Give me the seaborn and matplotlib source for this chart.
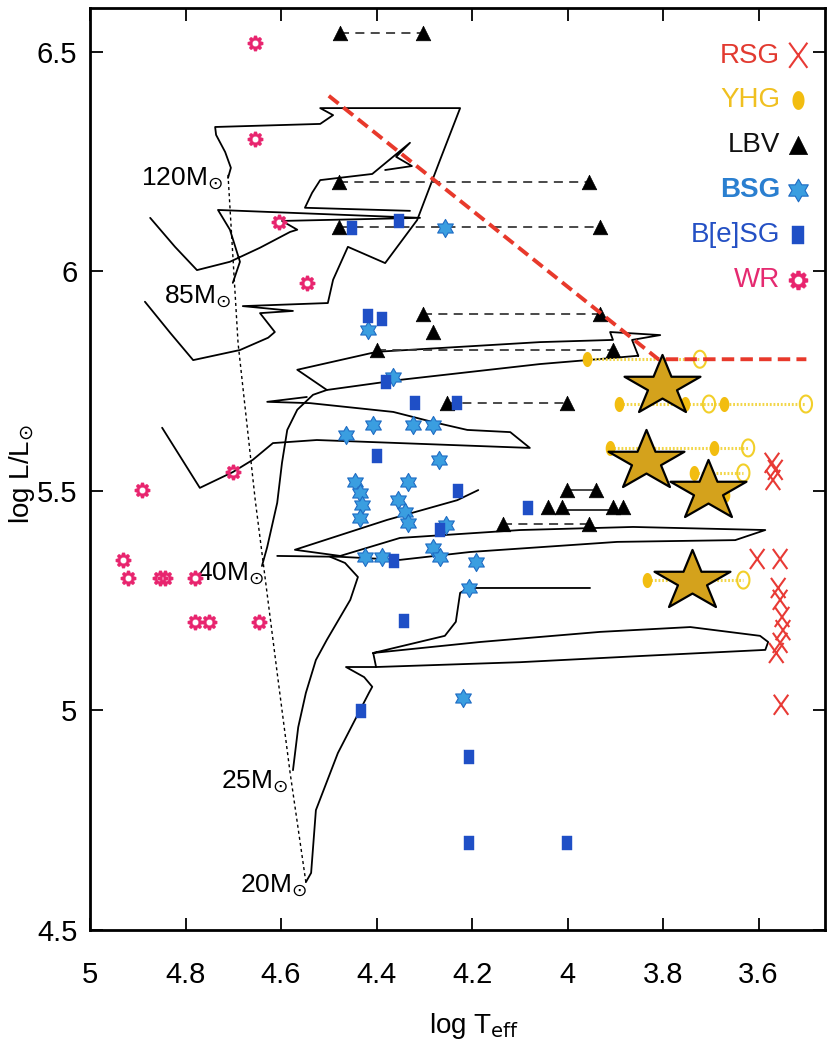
import numpy as np
import pandas as pd
import matplotlib
matplotlib.use("Agg")
import matplotlib.pyplot as plt
from matplotlib.path import Path
import seaborn as sns

# ---------------- observed stars: (log Teff, log L/Lsun) ----------------
rsg_logt = [3.572, 3.565, 3.570, 3.603, 3.555, 3.559, 3.555, 3.551, 3.549, 3.555, 3.563, 3.553]
rsg_logl = [5.564, 5.548, 5.525, 5.345, 5.345, 5.279, 5.252, 5.213, 5.183, 5.154, 5.131, 5.013]

yhg_logt = [3.959, 3.892, 3.754, 3.672, 3.911, 3.693, 3.735, 3.670, 3.834]
yhg_logl = [5.800, 5.698, 5.698, 5.698, 5.598, 5.598, 5.541, 5.491, 5.297]
yhg_open_logt = [3.723, 3.704, 3.501, 3.622, 3.632, 3.632]
yhg_open_logl = [5.800, 5.698, 5.698, 5.598, 5.541, 5.297]
yhg_path_hot = [3.959, 3.892, 3.911, 3.735, 3.834]
yhg_path_cool = [3.723, 3.501, 3.622, 3.632, 3.632]
yhg_path_logl = [5.800, 5.698, 5.598, 5.541, 5.297]

lbv_logt = [4.476, 4.302, 4.478, 3.955, 4.478, 3.932, 4.303, 3.932, 4.282, 4.399, 3.905,
            4.252, 4.001, 4.001, 3.940, 4.041, 4.012, 3.905, 3.884, 3.955, 4.135]
lbv_logl = [6.543, 6.543, 6.204, 6.204, 6.101, 6.101, 5.903, 5.903, 5.862, 5.821, 5.821,
            5.700, 5.700, 5.502, 5.502, 5.464, 5.464, 5.464, 5.464, 5.424, 5.424]
lbv_link_hot = [4.476, 4.478, 4.478, 4.303, 4.399, 4.252, 4.135]
lbv_link_cool = [4.302, 3.955, 3.932, 3.932, 3.905, 4.001, 3.955]
lbv_link_logl = [6.543, 6.204, 6.101, 5.903, 5.821, 5.700, 5.424]
lbv_short_link = (4.001, 3.940, 5.502)
lbv_solid_link = (4.012, 3.905, 5.457)

bsg_logt = [4.257, 4.418, 4.365, 4.464, 4.407, 4.324, 4.282, 4.269, 4.445, 4.435, 4.430, 4.435,
            4.334, 4.355, 4.340, 4.334, 4.254, 4.282, 4.267, 4.424, 4.388, 4.192, 4.206, 4.219]
bsg_logl = [6.099, 5.867, 5.760, 5.628, 5.650, 5.650, 5.650, 5.571, 5.521, 5.495, 5.468, 5.439,
            5.521, 5.479, 5.452, 5.427, 5.423, 5.370, 5.350, 5.350, 5.350, 5.338, 5.279, 5.028]

bsge_logt = [4.451, 4.353, 4.418, 4.388, 4.380, 4.319, 4.231, 4.399, 4.229, 4.083, 4.267,
             4.363, 4.342, 4.432, 4.206, 4.206, 4.001]
bsge_logl = [6.099, 6.115, 5.899, 5.892, 5.748, 5.700, 5.700, 5.580, 5.500, 5.461, 5.411,
             5.341, 5.204, 4.999, 4.894, 4.698, 4.698]

wr_logt = [4.654, 4.654, 4.604, 4.546, 4.701, 4.891, 4.931, 4.920, 4.853, 4.843, 4.780,
           4.780, 4.751, 4.646]
wr_logl = [6.520, 6.302, 6.113, 5.974, 5.543, 5.502, 5.343, 5.302, 5.302, 5.302, 5.302,
           5.202, 5.202, 5.202]

# highlighted targets
target_logt = [3.802, 3.836, 3.707, 3.739]
target_logl = [5.738, 5.568, 5.500, 5.295]

# Humphreys-Davidson limit
hd_logt = [4.50, 3.81, 3.50]
hd_logl = [6.40, 5.80, 5.80]

# ---------------- evolutionary tracks ----------------
track_120_t = [4.711, 4.705, 4.717, 4.736, 4.738, 4.518, 4.491, 4.518, 4.225, 4.267, 4.315, 4.382,
               4.460, 4.491, 4.502, 4.680, 4.575, 4.644, 4.613, 4.627, 4.686, 4.784, 4.832, 4.885]
track_120_l = [6.213, 6.236, 6.272, 6.311, 6.329, 6.336, 6.356, 6.372, 6.372, 6.254, 6.117, 6.019,
               6.056, 5.981, 5.928, 5.921, 5.910, 5.905, 5.862, 5.849, 5.821, 5.798, 5.860, 5.931]
track_120b_t = [4.330, 4.550, 4.535, 4.518, 4.409, 4.330, 4.359, 4.326, 4.382]
track_120b_l = [6.138, 6.145, 6.179, 6.208, 6.222, 6.293, 6.261, 6.240, 6.231]
track_85_t = [4.701, 4.686, 4.707, 4.732, 4.309, 4.598, 4.566, 4.581, 4.644, 4.707, 4.776, 4.822, 4.874]
track_85_l = [5.974, 6.022, 6.095, 6.140, 6.122, 6.115, 6.095, 6.090, 6.054, 6.022, 6.003, 6.056, 6.122]
track_60_t = [3.852, 3.959, 4.058, 4.351, 4.504, 4.566, 4.399, 4.058, 3.905, 3.911, 3.806, 3.865, 3.852]
track_60_l = [5.808, 5.798, 5.789, 5.753, 5.730, 5.776, 5.817, 5.839, 5.844, 5.862, 5.855, 5.844, 5.808]
track_60b_t = [4.546, 4.629, 4.539, 4.365, 4.282, 4.210, 4.120, 4.079, 4.525, 4.617, 4.659, 4.701,
               4.770, 4.849]
track_60b_l = [5.714, 5.703, 5.700, 5.680, 5.657, 5.639, 5.634, 5.598, 5.616, 5.609, 5.571, 5.543,
               5.507, 5.644]
track_40_t = [4.640, 4.629, 4.608, 4.598, 4.587, 4.566, 4.533, 4.504]
track_40_l = [5.329, 5.372, 5.473, 5.564, 5.639, 5.685, 5.719, 5.730]
track_32_t = [4.187, 4.231, 4.378, 4.571, 4.476, 4.351, 4.099, 3.863, 3.586, 3.649, 3.896, 4.204,
              4.351, 4.476, 4.608]
track_32_l = [5.502, 5.479, 5.434, 5.366, 5.352, 5.393, 5.411, 5.418, 5.411, 5.388, 5.384, 5.361,
              5.343, 5.350, 5.352]
track_25_t = [4.575, 4.564, 4.548, 4.527, 4.504, 4.455, 4.439, 4.466, 4.497]
track_25_l = [4.864, 4.962, 5.040, 5.115, 5.161, 5.252, 5.304, 5.336, 5.350]
track_25b_t = [3.953, 4.206, 4.225, 4.234, 4.257, 4.407, 4.401, 4.099, 3.848, 3.586, 3.580, 3.597,
               3.743, 3.932, 4.183, 4.407]
track_25b_l = [5.279, 5.279, 5.268, 5.202, 5.170, 5.131, 5.099, 5.110, 5.124, 5.138, 5.156, 5.170,
               5.190, 5.179, 5.156, 5.131]
track_20_t = [4.548, 4.537, 4.527, 4.481, 4.416, 4.409, 4.426, 4.464, 4.401]
track_20_l = [4.609, 4.630, 4.773, 4.903, 5.040, 5.054, 5.076, 5.099, 5.099]

zams_t = [4.711, 4.690, 4.654, 4.608, 4.581, 4.548]
zams_l = [6.220, 5.837, 5.479, 5.085, 4.858, 4.609]

mass_labels = ["120M$_{\\odot}$", "85M$_{\\odot}$", "40M$_{\\odot}$", "25M$_{\\odot}$", "20M$_{\\odot}$"]
mass_label_t = [4.722, 4.705, 4.636, 4.585, 4.546]
mass_label_l = [6.212, 5.942, 5.312, 4.838, 4.602]

x_ticks = [5.0, 4.8, 4.6, 4.4, 4.2, 4.0, 3.8, 3.6]
x_tick_labels = ["5", "4.8", "4.6", "4.4", "4.2", "4", "3.8", "3.6"]
y_ticks = [4.5, 5.0, 5.5, 6.0, 6.5]
y_tick_labels = ["4.5", "5", "5.5", "6", "6.5"]

legend_order = ["RSG", "YHG", "LBV", "BSG", "B[e]SG", "WR"]
legend_colors = ["#e23a30", "#f0c020", "#111111", "#2a7fd0", "#2450c4", "#e52a70"]

# ---------------- marker shapes ----------------
def ellipse_path(aspect):
    th = np.linspace(0, 2 * np.pi, 41)
    return Path(np.column_stack([aspect * np.cos(th), np.sin(th)]), closed=True)


def gear_path(teeth=8, root=0.74, hole=0.42):
    verts = []
    for k in range(teeth):
        a = 2 * np.pi * k / teeth
        for da, r in [(-19, root), (-10, 1.0), (10, 1.0), (19, root)]:
            ang = a + np.deg2rad(da)
            verts.append((r * np.cos(ang), r * np.sin(ang)))
    verts.append(verts[0])
    outer = Path(verts, closed=True)
    th = np.linspace(2 * np.pi, 0, 31)
    inner = Path(np.column_stack([hole * np.cos(th), hole * np.sin(th)]), closed=True)
    return Path.make_compound_path(outer, inner)


def flat_star_path(squash=0.79):
    ang = np.pi / 2 + np.arange(11) * np.pi / 5
    r = np.where(np.arange(11) % 2 == 0, 1.0, 0.382)
    return Path(np.column_stack([r * np.cos(ang), squash * r * np.sin(ang)]), closed=True)


tall_x = Path([(-0.72, -1), (0.72, 1), (-0.72, 1), (0.72, -1)],
              [Path.MOVETO, Path.LINETO, Path.MOVETO, Path.LINETO])
rect_mark = Path([(-0.33, -0.5), (0.33, -0.5), (0.33, 0.5), (-0.33, 0.5), (-0.33, -0.5)], closed=True)
hexagram = Path.unit_regular_star(6, innerCircle=0.577)

# ---------------- figure ----------------
sns.set_theme(style="ticks")
plt.rcParams["font.family"] = ["Liberation Sans Narrow", "Liberation Sans", "DejaVu Sans"]
plt.rcParams["axes.edgecolor"] = "black"
plt.rcParams["text.color"] = "black"
plt.rcParams["xtick.color"] = "black"
plt.rcParams["ytick.color"] = "black"
plt.rcParams["axes.labelcolor"] = "black"

fig = plt.figure(figsize=(8.27, 10.51), dpi=100)
ax = fig.add_axes([90 / 827, 121 / 1051, 735 / 827, 922 / 1051])

# tracks
tracks = [(track_120_t, track_120_l), (track_120b_t, track_120b_l), (track_85_t, track_85_l),
          (track_60_t, track_60_l), (track_60b_t, track_60b_l), (track_40_t, track_40_l),
          (track_32_t, track_32_l), (track_25_t, track_25_l), (track_25b_t, track_25b_l),
          (track_20_t, track_20_l)]
for tt, ll in tracks:
    ax.plot(tt, ll, color="black", lw=1.3, zorder=2, solid_joinstyle="round")
ax.plot(zams_t, zams_l, color="black", lw=1.0, ls=(0, (2.2, 2.2)), zorder=2)

for lab, t, l in zip(mass_labels, mass_label_t, mass_label_l):
    ax.text(t, l, lab, ha="right", va="center", fontsize=19, zorder=3)

# LBV variability links
for t1, t2, l in zip(lbv_link_hot, lbv_link_cool, lbv_link_logl):
    ax.plot([t1, t2], [l, l], color="#3a3a3a", lw=1.3, ls=(0, (5, 3.5)), zorder=3)
ax.plot(lbv_short_link[:2], [lbv_short_link[2]] * 2, color="#3a3a3a", lw=1.3, zorder=3)
ax.plot(lbv_solid_link[:2], [lbv_solid_link[2]] * 2, color="#222222", lw=1.3, zorder=3)

# YHG excursions
for t1, t2, l in zip(yhg_path_hot, yhg_path_cool, yhg_path_logl):
    ax.plot([t1, t2], [l, l], color="#f2d64a", lw=2.2, ls=(0, (0.6, 0.6)), zorder=3)

# Humphreys-Davidson limit
ax.plot(hd_logt, hd_logl, color="#e8392b", lw=2.8, ls=(0, (3.2, 1.6)), zorder=5)

# star classes
df_rsg = pd.DataFrame({"logT": rsg_logt, "logL": rsg_logl})
df_yhg = pd.DataFrame({"logT": yhg_logt, "logL": yhg_logl})
df_yhg_o = pd.DataFrame({"logT": yhg_open_logt, "logL": yhg_open_logl})
df_lbv = pd.DataFrame({"logT": lbv_logt, "logL": lbv_logl})
df_bsg = pd.DataFrame({"logT": bsg_logt, "logL": bsg_logl})
df_bsge = pd.DataFrame({"logT": bsge_logt, "logL": bsge_logl})
df_wr = pd.DataFrame({"logT": wr_logt, "logL": wr_logl})
df_tgt = pd.DataFrame({"logT": target_logt, "logL": target_logl})

sns.scatterplot(data=df_yhg_o, x="logT", y="logL", ax=ax, marker=ellipse_path(0.72), s=150,
                facecolor="none", edgecolor="#f2cf2a", linewidth=1.5, legend=False, zorder=4)
sns.scatterplot(data=df_rsg, x="logT", y="logL", ax=ax, marker=tall_x, s=210,
                facecolor="none", edgecolor="#e83a35", linewidth=1.5, legend=False,
                label="RSG", zorder=4)
sns.scatterplot(data=df_yhg, x="logT", y="logL", ax=ax, marker=ellipse_path(0.64), s=118,
                color="#f2bd10", edgecolor="#f2bd10", linewidth=0, legend=False,
                label="YHG", zorder=4)
sns.scatterplot(data=df_lbv, x="logT", y="logL", ax=ax, marker="^", s=110,
                color="black", edgecolor="black", linewidth=0.5, legend=False,
                label="LBV", zorder=4)
sns.scatterplot(data=df_bsg, x="logT", y="logL", ax=ax, marker=hexagram, s=170,
                color="#3a9ee0", edgecolor="#1f6cc4", linewidth=0.8, legend=False,
                label="BSG", zorder=4)
sns.scatterplot(data=df_bsge, x="logT", y="logL", ax=ax, marker=rect_mark, s=105,
                color="#1f4fc6", edgecolor="#1f4fc6", linewidth=0.3, legend=False,
                label="B[e]SG", zorder=4)
sns.scatterplot(data=df_wr, x="logT", y="logL", ax=ax, marker=gear_path(), s=120,
                color="#e8246e", edgecolor="#e8246e", linewidth=0.3, legend=False,
                label="WR", zorder=4)
sns.scatterplot(data=df_tgt, x="logT", y="logL", ax=ax, marker=flat_star_path(), s=2990,
                color="#d4a21c", edgecolor="black", linewidth=1.6, legend=False, zorder=7)

# axes styling
ax.set_xlim(5.0, 3.461)
ax.set_ylim(4.5, 6.6)
ax.set_xticks(x_ticks)
ax.set_xticklabels(x_tick_labels)
ax.set_yticks(y_ticks)
ax.set_yticklabels(y_tick_labels)
ax.tick_params(direction="in", top=True, right=True, length=9, width=1.3, labelsize=21)
ax.tick_params(axis="x", pad=22)
ax.tick_params(axis="y", pad=9)
for sp in ax.spines.values():
    sp.set_linewidth(2.0)
    sp.set_color("black")

ax.set_xlabel("log T$_{\\rm eff}$", fontsize=20)
ax.xaxis.set_label_coords(0.522, -0.088)
ax.set_ylabel("log L/L$_{\\odot}$", fontsize=20)
ax.yaxis.set_label_coords(-0.072, 0.495)

# legend: label first, marker after
handles, labels = ax.get_legend_handles_labels()
lookup = dict(zip(labels, handles))
leg = ax.legend([lookup[k] for k in legend_order], legend_order, loc="upper right",
                bbox_to_anchor=(0.975, 0.9625), frameon=False, markerfirst=False,
                labelcolor=legend_colors, fontsize=20, handlelength=0.6, handletextpad=0.35,
                labelspacing=0.68, borderaxespad=0, borderpad=0, scatterpoints=1,
                markerscale=1.25)
leg.get_texts()[3].set_fontweight("bold")

fig.savefig("out.png", dpi=100)
